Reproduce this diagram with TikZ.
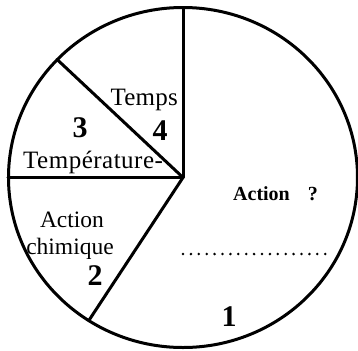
\documentclass[tikz,border=0pt]{standalone}
\usepackage{fontspec}
\setmainfont{Liberation Serif}
\begin{document}
\begin{tikzpicture}[x=1bp,y=-1bp,
  edge/.style={line width=3bp,line cap=round,line join=round},
  lbl/.style={inner sep=0pt,font=\fontsize{23.5bp}{26bp}\selectfont},
  lblw/.style={inner sep=0pt,font=\fontsize{25bp}{28bp}\selectfont},
  lblb/.style={inner sep=0pt,font=\fontsize{20bp}{22bp}\selectfont\bfseries},
  num/.style={inner sep=0pt,font=\fontsize{30bp}{32bp}\selectfont\bfseries},
  dotrow/.style={line width=2.8bp,line cap=round,dash pattern=on 0pt off 7.9bp}]
\useasboundingbox (0,0) rectangle (358,351);
\coordinate (c) at (183,177.5);
\coordinate (top) at (183,7.5);
\coordinate (ul) at (57,59.4);
\coordinate (lft) at (8,177.5);
\coordinate (ll) at (88.7,320.7);
\draw[edge] (c) ellipse [x radius=174.5bp, y radius=170bp];
\draw[edge] (c) -- (top);
\draw[edge] (c) -- (ul);
\draw[edge] (c) -- (lft);
\draw[edge] (c) -- (ll);
\node[lblw,anchor=base east] (temps) at (178,105) {\addfontfeature{LetterSpace=1}Temps};
\node[num,anchor=base] (n4) at (160,140) {4};
\node[num,anchor=base] (n3) at (80,137) {3};
\node[lblw,anchor=base west] (temp) at (23,168) {\addfontfeature{LetterSpace=2}Température-};
\node[lbl,anchor=base] (act) at (72,227) {Action};
\node[lbl,anchor=base] (chim) at (70,254) {chimique};
\node[num,anchor=base] (n2) at (95,285) {2};
\node[lblb,anchor=base west] (actq) at (233,200) {Action\hspace{18bp}?};
\coordinate (d1) at (183,254);
\coordinate (d2) at (326,254);
\draw[dotrow] (d1) -- (d2);
\node[num,anchor=base] (n1) at (229,326) {1};
\end{tikzpicture}
\end{document}
